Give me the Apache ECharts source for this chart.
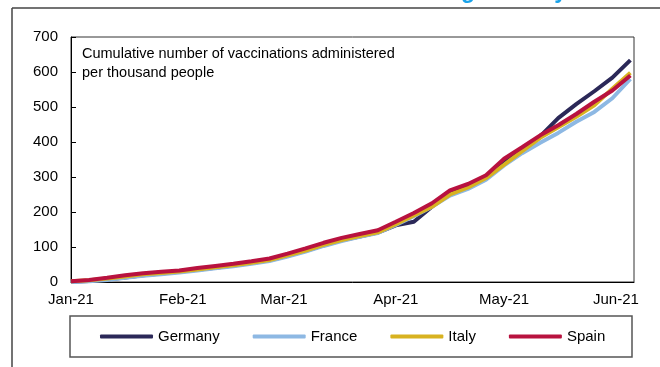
<!DOCTYPE html>
<html>
<head>
<meta charset="utf-8">
<script src="https://cdn.jsdelivr.net/npm/echarts@6/dist/echarts.min.js"></script>
<style>
  html, body { margin: 0; padding: 0; background: #fff; }
  #chart { width: 660px; height: 367px; }
</style>
</head>
<body>
<div id="chart"></div>
<script>
// days since 1 Jan 2021
const days = [0, 5, 10, 15, 20, 25, 30, 35, 40, 45, 50, 55, 60, 65, 70, 75, 80, 85, 90, 95, 100, 105, 110, 115, 120, 125, 130, 135, 140, 145, 150, 155]
const germany = [1, 3, 7, 13, 19, 24, 29, 35, 41, 47, 54, 62, 75, 89, 105, 119, 130, 141, 162, 172, 215, 252, 274, 300, 347, 382, 416, 468, 508, 545, 584, 634]
const france = [0, 2, 6, 12, 18, 22, 27, 33, 39, 45, 52, 60, 73, 87, 103, 117, 129, 140, 163, 188, 215, 247, 266, 292, 333, 368, 398, 426, 458, 486, 525, 580]
const italy = [2, 5, 10, 16, 22, 26, 30, 36, 42, 48, 55, 63, 76, 90, 106, 120, 131, 142, 165, 190, 215, 250, 270, 297, 335, 374, 412, 442, 472, 505, 552, 598]
const spain = [2, 6, 12, 19, 25, 29, 33, 40, 46, 52, 59, 67, 81, 96, 112, 126, 137, 148, 172, 197, 225, 262, 280, 305, 352, 385, 419, 448, 480, 515, 547, 590]

const monthDays = [0, 31, 59, 90, 120, 151]
const monthLabels = ["Jan-21", "Feb-21", "Mar-21", "Apr-21", "May-21", "Jun-21"]

const names = ["Germany", "France", "Italy", "Spain"]
const colors = ["#2b2858", "#8db8e3", "#d8b220", "#b8123f"]
const values = [germany, france, italy, spain]

const font = "Liberation Sans, Arial, sans-serif"

const chart = echarts.init(document.getElementById("chart"), null, { renderer: "canvas" })

const option = {
  animation: false,
  color: colors,
  textStyle: { fontFamily: font },
  grid: {
    left: 71,
    top: 37,
    right: 26,
    bottom: 85,
    show: true,
    borderColor: "#333",
    borderWidth: 1,
  },
  legend: {
    data: names,
    left: 100,
    top: 329,
    padding: 0,
    icon: "roundRect",
    itemWidth: 53,
    itemHeight: 4,
    itemGap: 33,
    textStyle: { fontSize: 15, color: "#000", fontFamily: font },
  },
  xAxis: {
    type: "value",
    min: 0,
    max: 156,
    splitLine: { show: false },
    axisTick: { show: false },
    axisLine: { lineStyle: { color: "#000", width: 1 } },
    axisLabel: {
      customValues: monthDays,
      color: "#000",
      fontSize: 15,
      margin: 10,
      formatter: (v) => {
        const i = monthDays.indexOf(v)
        return i >= 0 ? monthLabels[i] : ""
      },
    },
  },
  yAxis: {
    type: "value",
    min: 0,
    max: 700,
    interval: 100,
    splitLine: { show: false },
    axisLine: { show: true, lineStyle: { color: "#000", width: 1 } },
    axisTick: { show: true, inside: true, length: 5, lineStyle: { color: "#000" } },
    axisLabel: { color: "#000", fontSize: 15, margin: 13 },
  },
  series: names.map((n, i) => ({
    name: n,
    type: "line",
    data: days.map((d, j) => [d, values[i][j]]),
    showSymbol: false,
    symbol: "none",
    lineStyle: { width: 4, color: colors[i] },
  })),
  graphic: [
    // outer frame
    { type: "line", shape: { x1: 12, y1: 8, x2: 660, y2: 8 }, style: { stroke: "#444", lineWidth: 1.5 } },
    { type: "line", shape: { x1: 12, y1: 8, x2: 12, y2: 367 }, style: { stroke: "#444", lineWidth: 1.5 } },
    // legend box
    { type: "rect", shape: { x: 70, y: 316, width: 562, height: 41 }, style: { fill: "none", stroke: "#555", lineWidth: 1.5 } },
    // title cut off above
    {
      type: "text",
      x: 567,
      y: 3,
      style: {
        text: "Vaccination rollout is accelerating steadily",
        fill: "#1aa3ea",
        font: "bold 23px " + font,
        align: "right",
        verticalAlign: "bottom",
      },
    },
    // note inside plot
    {
      type: "text",
      x: 82,
      y: 44,
      style: {
        text: "Cumulative number of vaccinations administered\nper thousand people",
        fill: "#000",
        font: "14.5px " + font,
        lineHeight: 19,
      },
    },
  ],
}

chart.setOption(option)
</script>
</body>
</html>
